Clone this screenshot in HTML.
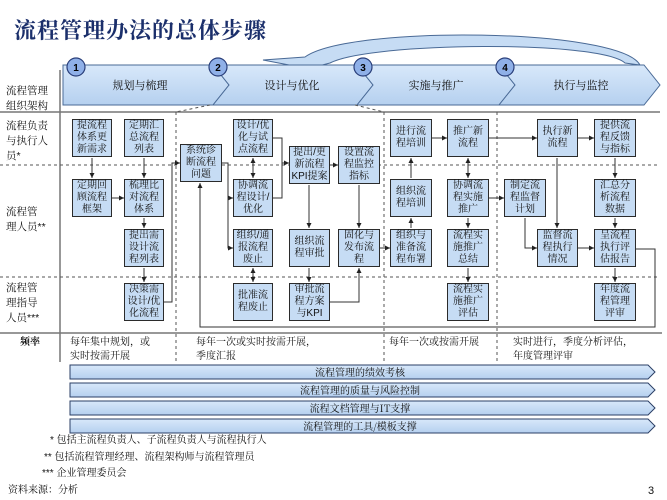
<!DOCTYPE html>
<html><head><meta charset="utf-8"><style>
body{margin:0;width:667px;height:500px;background:#fff;position:relative;overflow:hidden;font-family:"Liberation Sans","Noto Serif CJK SC","Noto Sans CJK SC",sans-serif;color:#111}
.b{position:absolute;width:40px;height:38px;background:#c6dcf4;border:1.5px solid #2b2b2b;font-size:10px;line-height:12px;text-align:center;display:flex;align-items:center;justify-content:center;box-sizing:border-box;padding:0;white-space:nowrap;letter-spacing:0}
.t{position:absolute;font-size:10px;line-height:14px;white-space:nowrap}
.lab{position:absolute;font-size:10.5px;line-height:15px;left:6px}
</style></head><body>
<div style="position:absolute;left:14px;top:14px;font-size:22px;font-weight:bold;color:#1b2f6b;font-family:'Noto Serif CJK SC',serif;letter-spacing:1px">流程管理办法的总体步骤</div>
<svg width="667" height="500" style="position:absolute;left:0;top:0">
<defs><marker id="a" markerWidth="6" markerHeight="6" refX="5" refY="3" orient="auto"><path d="M0,0.5 L5,3 L0,5.5z" fill="#222"/></marker>
<marker id="s" markerWidth="6" markerHeight="6" refX="1" refY="3" orient="auto"><path d="M6,0.5 L1,3 L6,5.5z" fill="#222"/></marker>
<linearGradient id="g" x1="0" y1="0" x2="0" y2="1"><stop offset="0" stop-color="#d8e8fa"/><stop offset="1" stop-color="#b5d0ef"/></linearGradient></defs>
<path d="M640,65 C620,28 350,25 305,57 L263,60 L310,69 C318,66 326,64 330,63 C370,42 600,40 625,63 Z" fill="#c6dcf4" stroke="#4a6a96" stroke-width="1"/>
<g fill="url(#g)" stroke="#4a6a96" stroke-width="1">
<polygon points="63,65 213,65 229,85 213,105 63,105"/>
<polygon points="213,65 357,65 373,85 357,105 213,105 229,85"/>
<polygon points="357,65 499,65 515,85 499,105 357,105 373,85"/>
<polygon points="499,65 644,65 660,85 644,105 499,105 515,85"/>
</g>
<g fill="#8fb0e8" stroke="#2a3f7a" stroke-width="1.2"><circle cx="76" cy="67" r="9"/><circle cx="218" cy="67" r="9"/><circle cx="363" cy="67" r="9"/><circle cx="505" cy="67" r="9"/></g>
<g font-size="10" font-weight="bold" text-anchor="middle" fill="#000" font-family="Liberation Sans"><text x="76" y="71">1</text><text x="218" y="71">2</text><text x="363" y="71">3</text><text x="505" y="71">4</text></g>
<g font-size="11" text-anchor="middle" fill="#111" font-family="Noto Serif CJK SC,serif"><text x="140" y="89">规划与梳理</text><text x="292" y="89">设计与优化</text><text x="436" y="89">实施与推广</text><text x="581" y="89">执行与监控</text></g>
<g stroke="#777" stroke-width="1.5" fill="none"><line x1="0" y1="112" x2="660" y2="112"/><line x1="60" y1="70" x2="60" y2="362"/><line x1="0" y1="333" x2="662" y2="333"/></g>
<g stroke="#555" stroke-width="1" stroke-dasharray="3,3" fill="none">
<line x1="0" y1="165" x2="660" y2="165"/><line x1="0" y1="277" x2="660" y2="277"/>
<line x1="176" y1="112" x2="176" y2="362"/><line x1="384" y1="112" x2="384" y2="362"/><line x1="497" y1="112" x2="497" y2="362"/>
<line x1="210" y1="105" x2="176" y2="112"/><line x1="355" y1="105" x2="384" y2="112"/></g>
<g stroke="#333" stroke-width="1" fill="none" marker-end="url(#a)">
<path d="M92,158V178"/><path d="M144,158V178"/><path d="M112,198H124"/><path d="M144,218V228"/><path d="M144,268V282"/>
<path d="M164,302H172V163H180"/>
<path d="M222,163H228V198H233"/><path d="M228,198V248H233"/>
<path d="M273,138H282V198H273" marker-end="none"/><path d="M282,163H289"/>
<path d="M309,185V228"/><path d="M309,268V282"/><path d="M330,165H338"/>
<path d="M330,302H359V268"/><path d="M359,185V228"/><path d="M380,248H390"/>
<path d="M411,228V218"/><path d="M411,178V158"/><path d="M432,138H447"/><path d="M489,138H537"/>
<path d="M468,218V228"/><path d="M489,198H504"/><path d="M468,268V282"/>
<path d="M525,218V248H537"/><path d="M557,158V228"/><path d="M578,138H594"/>
<path d="M615,158V178"/><path d="M615,218V228"/><path d="M578,248H594"/><path d="M615,268V282"/>
<path d="M636,249H655V327H200V183"/>
<path d="M253,158V178" marker-start="url(#s)"/><path d="M253,268V282" marker-start="url(#s)"/><path d="M468,158V178" marker-start="url(#s)"/>
</g>
<g fill="url(#g)" stroke="#2b3f66" stroke-width="1">
<polygon points="70,365 648,365 655,372 648,379 70,379"/>
<polygon points="70,383 648,383 655,390 648,397 70,397"/>
<polygon points="70,401 648,401 655,408 648,415 70,415"/>
<polygon points="70,419 648,419 655,426 648,433 70,433"/>
</g>
<g font-size="10" text-anchor="middle" fill="#111" font-family="Noto Serif CJK SC,serif"><text x="360" y="376">流程管理的绩效考核</text><text x="360" y="394">流程管理的质量与风险控制</text><text x="360" y="412">流程文档管理与IT支撑</text><text x="360" y="430">流程管理的工具/模板支撑</text></g>
</svg>
<div class="lab" style="top:84px">流程管理<br>组织架构</div>
<div class="lab" style="top:119px">流程负责<br>与执行人<br>员*</div>
<div class="lab" style="top:205px">流程管<br>理人员**</div>
<div class="lab" style="top:281px">流程管<br>理指导<br>人员***</div>
<div class="t" style="left:20px;top:336px;font-weight:bold">频率</div>
<div class="t" style="left:70px;top:336px">每年集中规划，或<br>实时按需开展</div>
<div class="t" style="left:196px;top:336px">每年一次或实时按需开展，<br>季度汇报</div>
<div class="t" style="left:389px;top:336px">每年一次或按需开展</div>
<div class="t" style="left:513px;top:336px">实时进行，季度分析评估，<br>年度管理评审</div>
<div class="t" style="left:50px;top:434px">* 包括主流程负责人、子流程负责人与流程执行人</div>
<div class="t" style="left:44px;top:451px">** 包括流程管理经理、流程架构师与流程管理员</div>
<div class="t" style="left:42px;top:467px">*** 企业管理委员会</div>
<div class="t" style="left:8px;top:484px">资料来源：分析</div>
<div class="t" style="left:648px;top:484px;font-size:11px">3</div>

<div class="b" style="left:72px;top:119px">提流程<br>体系更<br>新需求</div>
<div class="b" style="left:124px;top:119px">定期汇<br>总流程<br>列表</div>
<div class="b" style="left:72px;top:179px">定期回<br>顾流程<br>框架</div>
<div class="b" style="left:124px;top:179px">梳理比<br>对流程<br>体系</div>
<div class="b" style="left:124px;top:229px">提出需<br>设计流<br>程列表</div>
<div class="b" style="left:124px;top:283px">决策需<br>设计/优<br>化流程</div>
<div class="b" style="left:180px;top:144px;width:42px">系统诊<br>断流程<br>问题</div>
<div class="b" style="left:233px;top:119px">设计/优<br>化与试<br>点流程</div>
<div class="b" style="left:233px;top:179px">协调流<br>程设计/<br>优化</div>
<div class="b" style="left:233px;top:229px">组织/通<br>报流程<br>废止</div>
<div class="b" style="left:233px;top:283px">批准流<br>程废止</div>
<div class="b" style="left:289px;top:146px;width:41px">提出/更<br>新流程<br>KPI提案</div>
<div class="b" style="left:289px;top:229px;width:41px">组织流<br>程审批</div>
<div class="b" style="left:289px;top:283px;width:41px">审批流<br>程方案<br>与KPI</div>
<div class="b" style="left:338px;top:146px;width:42px">设置流<br>程监控<br>指标</div>
<div class="b" style="left:338px;top:229px;width:42px">固化与<br>发布流<br>程</div>
<div class="b" style="left:390px;top:119px;width:42px">进行流<br>程培训</div>
<div class="b" style="left:447px;top:119px;width:42px">推广新<br>流程</div>
<div class="b" style="left:390px;top:179px;width:42px">组织流<br>程培训</div>
<div class="b" style="left:447px;top:179px;width:42px">协调流<br>程实施<br>推广</div>
<div class="b" style="left:390px;top:229px;width:42px">组织与<br>准备流<br>程布署</div>
<div class="b" style="left:447px;top:229px;width:42px">流程实<br>施推广<br>总结</div>
<div class="b" style="left:447px;top:283px;width:42px">流程实<br>施推广<br>评估</div>
<div class="b" style="left:504px;top:179px;width:42px">制定流<br>程监督<br>计划</div>
<div class="b" style="left:537px;top:119px;width:41px">执行新<br>流程</div>
<div class="b" style="left:594px;top:119px;width:42px">提供流<br>程反馈<br>与指标</div>
<div class="b" style="left:594px;top:179px;width:42px">汇总分<br>析流程<br>数据</div>
<div class="b" style="left:537px;top:229px;width:41px">监督流<br>程执行<br>情况</div>
<div class="b" style="left:594px;top:229px;width:42px">呈流程<br>执行评<br>估报告</div>
<div class="b" style="left:594px;top:283px;width:42px">年度流<br>程管理<br>评审</div>
</body></html>
